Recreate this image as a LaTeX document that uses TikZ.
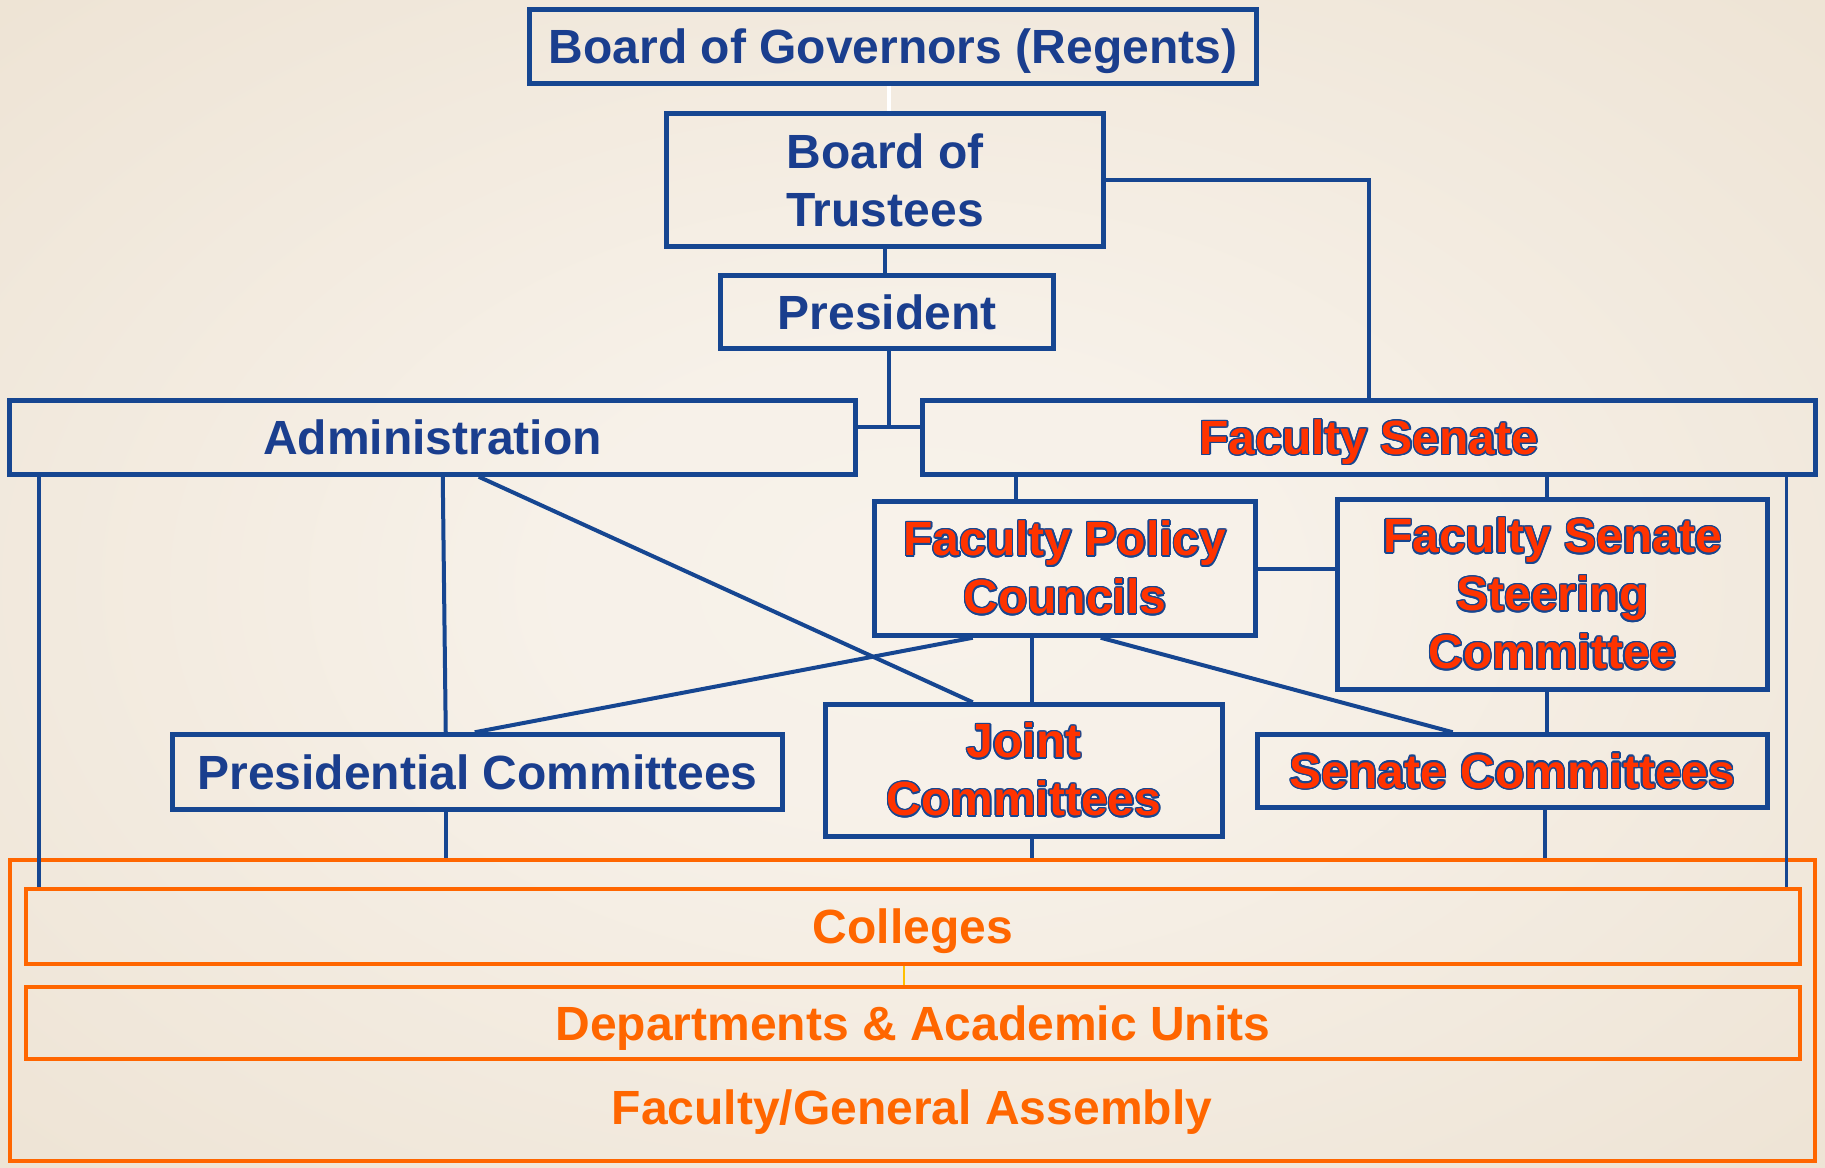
\documentclass[tikz,border=0pt]{standalone}
\usepackage{fontspec}
\setmainfont{Liberation Sans}
\usepackage{contour}
\contourlength{1.4pt}
\definecolor{cblue}{RGB}{22,70,145}
\definecolor{ctext}{RGB}{26,62,142}
\definecolor{cred}{RGB}{255,51,0}
\definecolor{corange}{RGB}{255,102,0}
\definecolor{cyel}{RGB}{255,192,0}
\pgfdeclareradialshading{bgshade}{\pgfpoint{0bp}{0bp}}{rgb(0bp)=(0.972,0.950,0.918); rgb(10bp)=(0.968,0.945,0.912); rgb(50bp)=(0.912,0.862,0.790); rgb(72bp)=(0.905,0.852,0.775)}
\tikzset{
  bluebox/.style={draw=cblue, line width=4.5pt, inner sep=0pt, align=center, text=ctext,
    font=\bfseries\fontsize{48}{58}\selectfont},
  redbox/.style={bluebox, text=cred},
  orbox/.style={draw=corange, line width=4.5pt, inner sep=0pt, align=center, text=corange,
    font=\bfseries\fontsize{48}{58}\selectfont},
  oneline/.style={text height=34pt, text depth=0pt},
  conn/.style={draw=cblue, line width=4pt},
  slimconn/.style={draw=cblue, line width=3.5pt},
  whiteconn/.style={draw=white, line width=3.5pt},
  yelconn/.style={draw=cyel, line width=2.5pt},
}
\begin{document}
\begin{tikzpicture}[x=1pt,y=-1pt]
\useasboundingbox (0,0) rectangle (1825,1167);
\shade[shading=bgshade] (0,0) rectangle (1825,1167);

% nodes
\node[bluebox, oneline, minimum width=727pt, minimum height=74pt] (gov) at (893,46.5) {Board of Governors (Regents)};
\node[bluebox, minimum width=437pt, minimum height=133pt] (trus) at (885,180) {Board of\\Trustees};
\node[bluebox, oneline, minimum width=333pt, minimum height=73pt] (pres) at (887,312) {President};
\node[bluebox, oneline, minimum width=846pt, minimum height=74pt] (admin) at (432.5,437.5) {Administration};
\node[redbox, oneline, minimum width=893pt, minimum height=74pt] (fs) at (1369,437.5) {\contour{cblue}{Faculty Senate}};
\node[redbox, minimum width=381pt, minimum height=134pt] (fpc) at (1065,568.5) {\contour{cblue}{Faculty Policy}\\\contour{cblue}{Councils}};
\node[redbox, minimum width=430pt, minimum height=190pt] (steer) at (1552.5,594.5) {\contour{cblue}{Faculty Senate}\\\contour{cblue}{Steering}\\\contour{cblue}{Committee}};
\node[bluebox, oneline, minimum width=610pt, minimum height=75pt] (presc) at (477.5,772) {Presidential Committees};
\node[redbox, minimum width=397pt, minimum height=132pt] (joint) at (1024,770.5) {\contour{cblue}{Joint}\\\contour{cblue}{Committees}};
\node[redbox, oneline, minimum width=510pt, minimum height=73pt] (senc) at (1512.5,771) {\contour{cblue}{Senate Committees}};
\node[orbox, minimum width=1805pt, minimum height=301pt] (outer) at (912.5,1010.5) {};
\node[orbox, oneline, minimum width=1774pt, minimum height=75pt] (coll) at (913,926.5) {Colleges};
\node[orbox, oneline, minimum width=1774pt, minimum height=72pt] (dept) at (913,1023) {Departments \& Academic Units};
\node[orbox, oneline, draw=none] (fga) at (912,1107) {Faculty/General Assembly};

% connectors
\draw[whiteconn] ([xshift=-4pt]gov.south) -- ([xshift=-4pt]gov.south |- trus.north);
\draw[conn] (trus.south) -- (trus.south |- pres.north);
\draw[conn] ([xshift=2pt]pres.south) -- ([xshift=2pt,yshift=11pt]pres.south |- admin.east);
\draw[conn] ([yshift=11pt]admin.east) -- ([yshift=11pt]fs.west);
\draw[conn] (trus.east) -| (fs.north);
\draw[conn] ([xshift=-49pt]fpc.north) -- ([xshift=-49pt]fpc.north |- fs.south);
\draw[conn] ([xshift=-5.5pt]steer.north) -- ([xshift=-5.5pt]steer.north |- fs.south);
\draw[conn] (fpc.east) -- (fpc.east -| steer.west);
\draw[conn] ([xshift=435.5pt]admin.south west) -- ([xshift=275.5pt]presc.north west);
\draw[conn] ([xshift=471.5pt]admin.south west) -- ([xshift=149.5pt]joint.north west);
\draw[conn] ([xshift=100.5pt]fpc.south west) -- ([xshift=304.5pt]presc.north west);
\draw[conn] ([xshift=159.5pt]fpc.south west) -- ([xshift=208.5pt]joint.north west);
\draw[conn] ([xshift=228.5pt]fpc.south west) -- ([xshift=197.5pt]senc.north west);
\draw[conn] ([xshift=-5.5pt]steer.south) -- ([xshift=-5.5pt]steer.south |- senc.north);
\draw[slimconn] ([xshift=31.5pt]admin.south west) -- ([xshift=31.5pt]admin.south west |- coll.north);
\draw[slimconn] ([xshift=-31.5pt]fs.south east) -- ([xshift=-31.5pt]fs.south east |- coll.north);
\draw[slimconn] ([xshift=275.5pt]presc.south west) -- ([xshift=275.5pt]presc.south west |- outer.north);
\draw[slimconn] ([xshift=208.5pt]joint.south west) -- ([xshift=208.5pt]joint.south west |- outer.north);
\draw[slimconn] ([xshift=289.5pt]senc.south west) -- ([xshift=289.5pt]senc.south west |- outer.north);
\draw[yelconn] ([xshift=-9pt]coll.south) -- ([xshift=-9pt]coll.south |- dept.north);
\end{tikzpicture}
\end{document}
